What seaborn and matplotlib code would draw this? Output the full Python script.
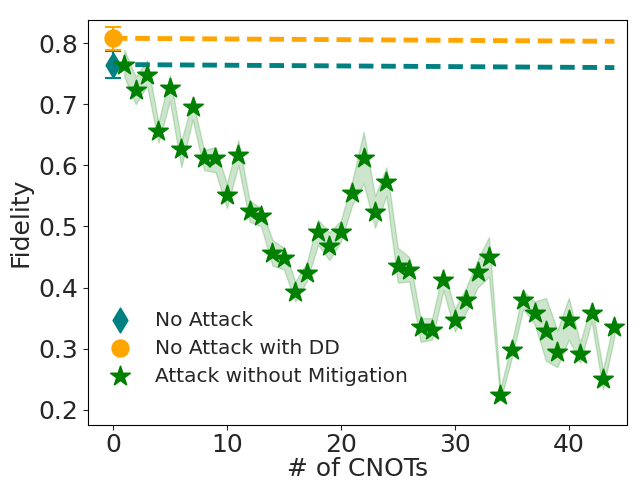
import numpy as np
import pandas as pd
import matplotlib
matplotlib.use("Agg")
import matplotlib.pyplot as plt
import seaborn as sns

sns.set_style("ticks")
plt.rcParams['font.family'] = ['DejaVu Sans']

# Data
cnots = list(range(1, 45))
fidelity = [0.764, 0.723, 0.748, 0.656, 0.726, 0.627, 0.695, 0.612, 0.612, 0.551,
            0.617, 0.525, 0.517, 0.457, 0.449, 0.393, 0.424, 0.491, 0.468, 0.491,
            0.555, 0.612, 0.524, 0.573, 0.436, 0.429, 0.336, 0.331, 0.413, 0.347,
            0.380, 0.426, 0.450, 0.225, 0.298, 0.380, 0.359, 0.329, 0.295, 0.347,
            0.292, 0.359, 0.251, 0.336]
band_low = [0.745, 0.700, 0.730, 0.637, 0.705, 0.597, 0.675, 0.592, 0.589, 0.530,
            0.600, 0.508, 0.500, 0.436, 0.430, 0.377, 0.410, 0.470, 0.445, 0.475,
            0.535, 0.570, 0.498, 0.550, 0.408, 0.410, 0.311, 0.315, 0.395, 0.328,
            0.360, 0.400, 0.418, 0.215, 0.285, 0.365, 0.340, 0.280, 0.270, 0.315,
            0.277, 0.345, 0.233, 0.320]
band_high = [0.789, 0.745, 0.772, 0.670, 0.748, 0.640, 0.707, 0.625, 0.630, 0.570,
             0.641, 0.542, 0.530, 0.478, 0.465, 0.410, 0.440, 0.511, 0.490, 0.510,
             0.575, 0.655, 0.550, 0.597, 0.465, 0.450, 0.350, 0.350, 0.430, 0.365,
             0.400, 0.445, 0.483, 0.235, 0.310, 0.395, 0.377, 0.383, 0.330, 0.383,
             0.310, 0.375, 0.265, 0.350]

no_attack_x = [0]
no_attack_y = [0.765]
no_attack_err = [0.022]
dd_x = [0]
dd_y = [0.808]
dd_err = [0.019]

line_x = [0, 44]
no_attack_line = [0.765, 0.760]
dd_line = [0.808, 0.803]

teal = "#008080"
orange = "#FFA500"
green = "#008000"

fig = plt.figure(figsize=(6.41, 4.80), dpi=100)
ax = fig.add_axes([0.137, 0.115, 0.841, 0.843])

# dashed reference lines
sns.lineplot(x=line_x, y=dd_line, ax=ax, color=orange, linestyle=(0, (3, 1.6)),
             linewidth=3.5, legend=False)
sns.lineplot(x=line_x, y=no_attack_line, ax=ax, color=teal, linestyle=(0, (3, 1.6)),
             linewidth=3.5, legend=False)

# band
ax.fill_between(cnots, band_low, band_high, color=green, alpha=0.2, linewidth=1.0)

# error bars
ax.errorbar(no_attack_x, no_attack_y, yerr=no_attack_err, fmt='none', ecolor=teal,
            capsize=6, elinewidth=1.5, capthick=1.5)
ax.errorbar(dd_x, dd_y, yerr=dd_err, fmt='none', ecolor=orange,
            capsize=6, elinewidth=1.5, capthick=1.5)

# markers
sns.scatterplot(x=no_attack_x, y=no_attack_y, ax=ax, marker='d', s=160, color=teal,
                edgecolor=teal, label="No Attack", zorder=4)
sns.scatterplot(x=dd_x, y=dd_y, ax=ax, marker='o', s=150, color=orange,
                edgecolor=orange, label="No Attack with DD", zorder=4)
sns.scatterplot(x=cnots, y=fidelity, ax=ax, marker='*', s=215, color=green,
                edgecolor=green, label="Attack without Mitigation", zorder=5)

ax.set_xlim(-2.2, 45.1)
ax.set_ylim(0.1755, 0.8376)
ax.set_xticks([0, 10, 20, 30, 40])
ax.set_yticks([0.2, 0.3, 0.4, 0.5, 0.6, 0.7, 0.8])
ax.tick_params(labelsize=18)
ax.tick_params(axis='x', pad=2.5)
ax.set_xlabel("# of CNOTs", fontsize=18, labelpad=0)
ax.set_ylabel("Fidelity", fontsize=18, labelpad=4)
for s in ax.spines.values():
    s.set_visible(True)
    s.set_color("black")

ax.legend(loc="lower left", frameon=False, fontsize=14.5,
          bbox_to_anchor=(-0.012, 0.052), handletextpad=0.75, labelspacing=0.45)

fig.savefig("out.png", dpi=100)
